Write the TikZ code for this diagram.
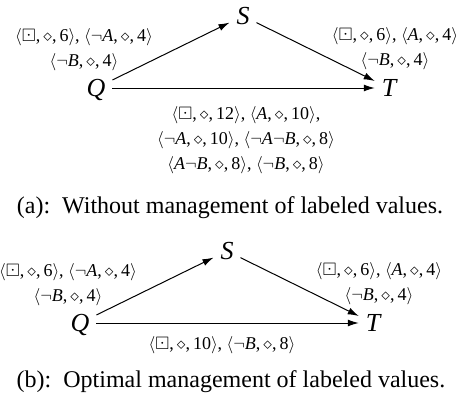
\documentclass[tikz,border=0pt]{standalone}
\usepackage{amssymb}
\usepackage{fontspec}
\setmainfont{Liberation Serif}
\usetikzlibrary{arrows.meta}
% labeled value <scenario, diamond, weight>
\newcommand\lv[2]{\ensuremath{\langle}#1,\,\ensuremath{\diamond},\,#2\ensuremath{\rangle}}
\newcommand\lneg{\ensuremath{\neg}}
\newcommand\bd{\ensuremath{\boxdot}}
\newcommand\pA{\textit{A}}
\newcommand\pB{\textit{B}}
\begin{document}
\begin{tikzpicture}[x=1pt,y=-1pt,
  vertex/.style={font=\fontsize{26}{30}\selectfont\itshape, inner sep=7pt,
                 outer sep=0pt, text height=17pt, text depth=0pt},
  lbl/.style={font=\fontsize{18}{25}\selectfont, align=center, inner sep=0pt},
  captext/.style={font=\fontsize{24}{28}\selectfont, inner sep=0pt},
  arr/.style={line width=1pt, -{Latex[length=11pt,width=7pt]}}]
\useasboundingbox (0,0) rectangle (464,405);

% (a) network without management of labeled values
\node[vertex] (Qa) at (96,88) {Q};
\node[vertex] (Sa) at (243,16) {S};
\node[vertex] (Ta) at (389,88) {T};
\draw[arr] (Qa) -- (Sa);
\draw[arr] (Sa) -- (Ta);
\draw[arr] (Qa) -- (Ta);
\node[lbl] (QSa) at (84,50) {\lv{\bd}{6}, \lv{\lneg\pA}{4}\\ \lv{\lneg\pB}{4}};
\node[lbl] (STa) at (395,49) {\lv{\bd}{6}, \lv{\pA}{4}\\ \lv{\lneg\pB}{4}};
\node[lbl] (QTa) at (246,140) {\lv{\bd}{12}, \lv{\pA}{10},\\
  \lv{\lneg\pA}{10}, \lv{\lneg\pA\lneg\pB}{8}\\ \lv{\pA\lneg\pB}{8}, \lv{\lneg\pB}{8}};
\node[captext] (capa) at (230,208) {(a):\ \ Without management of labeled values.};

% (b) network with optimal management of labeled values
\begin{scope}[shift={(-16,235)}]
\node[vertex] (Qb) at (96,88) {Q};
\node[vertex] (Sb) at (243,16) {S};
\node[vertex] (Tb) at (389,88) {T};
\draw[arr] (Qb) -- (Sb);
\draw[arr] (Sb) -- (Tb);
\draw[arr] (Qb) -- (Tb);
\node[lbl] (QSb) at (84,50) {\lv{\bd}{6}, \lv{\lneg\pA}{4}\\ \lv{\lneg\pB}{4}};
\node[lbl] (STb) at (395,49) {\lv{\bd}{6}, \lv{\pA}{4}\\ \lv{\lneg\pB}{4}};
\node[lbl] (QTb) at (238,110) {\lv{\bd}{10}, \lv{\lneg\pB}{8}};
\end{scope}
\node[captext] (capb) at (231,382) {(b):\ \ Optimal management of labeled values.};
\end{tikzpicture}
\end{document}
